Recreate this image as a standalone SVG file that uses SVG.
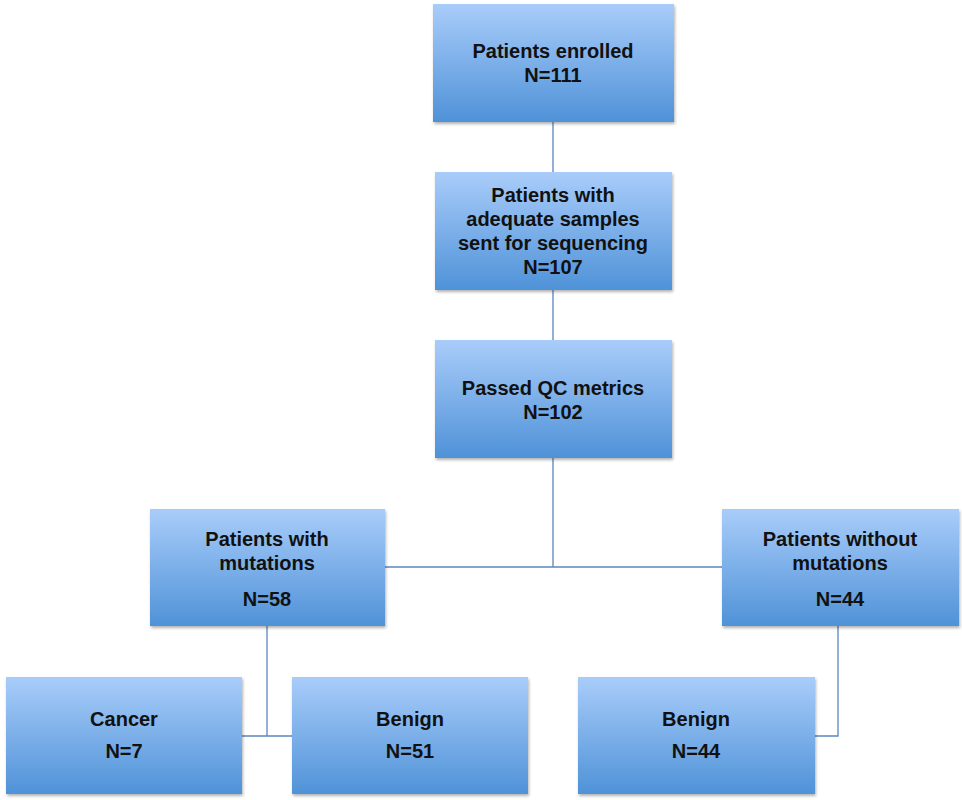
<svg xmlns="http://www.w3.org/2000/svg" width="962" height="800" viewBox="0 0 962 800">
<defs>
<linearGradient id="g" x1="0" y1="0" x2="0" y2="1">
<stop offset="0" stop-color="#a9cdfa"/>
<stop offset="1" stop-color="#4f92d8"/>
</linearGradient>
<filter id="sh" x="-5%" y="-5%" width="112%" height="115%"><feDropShadow dx="1" dy="2" stdDeviation="1.5" flood-color="#000" flood-opacity="0.3"/></filter>
</defs>
<style>
rect{fill:url(#g);filter:url(#sh)}
text{font-family:"Liberation Sans",Arial,sans-serif;font-weight:bold;font-size:20px;fill:#111;text-anchor:middle}
.c{fill:none;stroke:#5b86bd;stroke-width:1.3}
</style>
<rect width="962" height="800" style="fill:#fff;filter:none"/>
<g id="connectors" class="c">
<path class="c" d="M553 122V172M553 290V340M553 458V567M385 567H722M267 626V736M242 736H292M838 626V736H815"/>
</g>
<g id="n1"><rect x="433" y="4" width="241" height="118"/><text x="553" y="58">Patients enrolled</text><text x="553" y="82">N=111</text></g>
<g id="n2"><rect x="435" y="172" width="237" height="118"/><text x="553" y="202">Patients with</text><text x="553" y="226">adequate samples</text><text x="553" y="250">sent for sequencing</text><text x="553" y="274">N=107</text></g>
<g id="n3"><rect x="435" y="340" width="237" height="118"/><text x="553" y="395">Passed QC metrics</text><text x="553" y="419">N=102</text></g>
<g id="n4"><rect x="150" y="509" width="235" height="117"/><text x="267" y="546">Patients with</text><text x="267" y="570">mutations</text><text x="267" y="606">N=58</text></g>
<g id="n5"><rect x="722" y="509" width="237" height="117"/><text x="840" y="546">Patients without</text><text x="840" y="570">mutations</text><text x="840" y="606">N=44</text></g>
<g id="n6"><rect x="6" y="677" width="236" height="117"/><text x="124" y="726">Cancer</text><text x="124" y="758">N=7</text></g>
<g id="n7"><rect x="292" y="677" width="236" height="117"/><text x="410" y="726">Benign</text><text x="410" y="758">N=51</text></g>
<g id="n8"><rect x="578" y="677" width="237" height="117"/><text x="696" y="726">Benign</text><text x="696" y="758">N=44</text></g>
</svg>
